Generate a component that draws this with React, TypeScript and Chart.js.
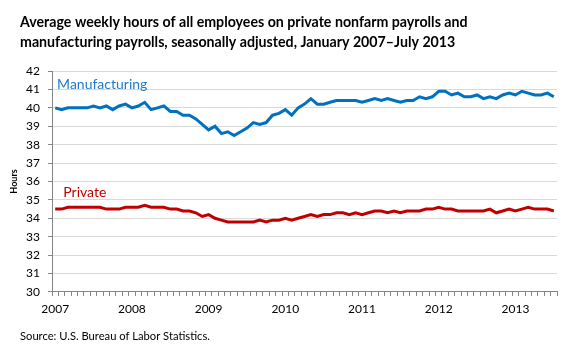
import React, { useEffect, useRef } from "react";
import { Chart, registerables } from "chart.js";

Chart.register(...registerables);

// Jan 2007 – Jul 2013, monthly, seasonally adjusted
const yearLabels = ["2007", "2008", "2009", "2010", "2011", "2012", "2013"];

const manufacturingHours = [
  40.0, 39.9, 40.0, 40.0, 40.0, 40.0, 40.1, 40.0, 40.1, 39.9, 40.1, 40.2,
  40.0, 40.1, 40.3, 39.9, 40.0, 40.1, 39.8, 39.8, 39.6, 39.6, 39.4, 39.1,
  38.8, 39.0, 38.6, 38.7, 38.5, 38.7, 38.9, 39.2, 39.1, 39.2, 39.6, 39.7,
  39.9, 39.6, 40.0, 40.2, 40.5, 40.2, 40.2, 40.3, 40.4, 40.4, 40.4, 40.4,
  40.3, 40.4, 40.5, 40.4, 40.5, 40.4, 40.3, 40.4, 40.4, 40.6, 40.5, 40.6,
  40.9, 40.9, 40.7, 40.8, 40.6, 40.6, 40.7, 40.5, 40.6, 40.5, 40.7, 40.8,
  40.7, 40.9, 40.8, 40.7, 40.7, 40.8, 40.6,
];

const privateHours = [
  34.5, 34.5, 34.6, 34.6, 34.6, 34.6, 34.6, 34.6, 34.5, 34.5, 34.5, 34.6,
  34.6, 34.6, 34.7, 34.6, 34.6, 34.6, 34.5, 34.5, 34.4, 34.4, 34.3, 34.1,
  34.2, 34.0, 33.9, 33.8, 33.8, 33.8, 33.8, 33.8, 33.9, 33.8, 33.9, 33.9,
  34.0, 33.9, 34.0, 34.1, 34.2, 34.1, 34.2, 34.2, 34.3, 34.3, 34.2, 34.3,
  34.2, 34.3, 34.4, 34.4, 34.3, 34.4, 34.3, 34.4, 34.4, 34.4, 34.5, 34.5,
  34.6, 34.5, 34.5, 34.4, 34.4, 34.4, 34.4, 34.4, 34.5, 34.3, 34.4, 34.5,
  34.4, 34.5, 34.6, 34.5, 34.5, 34.5, 34.4,
];

const titleLines = [
  "Average weekly hours of all employees on private nonfarm payrolls and",
  "manufacturing payrolls, seasonally adjusted, January 2007\u2013July 2013",
];
const sourceText = "Source: U.S. Bureau of Labor Statistics.";
const seriesNames = ["Manufacturing", "Private"];

const BLUE = "#0070C0";
const BLUE_TEXT = "#1F7BC8";
const RED = "#C00000";
const FONT = "Lato, 'Open Sans', sans-serif";

const seriesLabelPlugin = {
  id: "seriesLabels",
  afterDatasetsDraw(chart: any) {
    const { ctx, scales } = chart;
    const x = scales.x;
    const y = scales.y;
    ctx.save();
    ctx.font = `14px ${FONT}`;
    ctx.textAlign = "left";
    ctx.textBaseline = "alphabetic";
    ctx.fillStyle = BLUE_TEXT;
    ctx.fillText(seriesNames[0], x.getPixelForValue(0.3), y.getPixelForValue(41.02));
    ctx.fillStyle = RED;
    ctx.fillText(seriesNames[1], x.getPixelForValue(1.27), y.getPixelForValue(35.16));
    ctx.restore();
  },
};

export default function App() {
  const canvasRef = useRef<HTMLCanvasElement | null>(null);

  useEffect(() => {
    const canvas = canvasRef.current;
    if (!canvas) return;
    const n = manufacturingHours.length;
    const points = (arr: number[]) => arr.map((v, i) => ({ x: i, y: v }));

    const chart = new Chart(canvas, {
      type: "line",
      data: {
        datasets: [
          {
            label: seriesNames[0],
            data: points(manufacturingHours),
            borderColor: BLUE,
            backgroundColor: BLUE,
            borderWidth: 3,
            pointRadius: 0,
            tension: 0,
          },
          {
            label: seriesNames[1],
            data: points(privateHours),
            borderColor: RED,
            backgroundColor: RED,
            borderWidth: 3,
            pointRadius: 0,
            tension: 0,
          },
        ],
      },
      options: {
        responsive: false,
        animation: false,
        devicePixelRatio: 1,
        layout: { padding: { left: 20, right: 23, top: 0, bottom: 0 } },
        plugins: {
          legend: { display: false },
          tooltip: { enabled: false },
          title: {
            display: true,
            text: titleLines,
            align: "start",
            color: "#000000",
            font: { family: FONT, size: 14.2, weight: "bold", lineHeight: "19.5px" },
            padding: { top: 13, bottom: 19 },
          },
          subtitle: {
            display: true,
            text: sourceText,
            position: "bottom",
            align: "start",
            color: "#000000",
            font: { family: FONT, size: 11.2, lineHeight: 1.2 },
            padding: { top: 7.3, bottom: 17.3 },
          },
        },
        scales: {
          x: {
            type: "linear",
            min: -0.5,
            max: n - 0.5,
            afterFit(scale: any) {
              scale.height = 30;
            },
            afterBuildTicks(scale: any) {
              const t = [];
              for (let k = 0; k <= n; k++) t.push({ value: k - 0.5 });
              scale.ticks = t;
            },
            grid: {
              drawOnChartArea: false,
              drawTicks: true,
              tickLength: 4,
              tickColor: "#868686",
            },
            border: { color: "#868686", width: 1 },
            ticks: {
              autoSkip: false,
              maxRotation: 0,
              minRotation: 0,
              padding: 6,
              labelOffset: 3.2,
              color: "#000000",
              font: { family: FONT, size: 12 },
              callback: (value: any) => {
                const m = Math.round(Number(value) + 0.5);
                if (m % 12 === 0 && m / 12 < yearLabels.length) return yearLabels[m / 12];
                return "";
              },
            },
          },
          y: {
            min: 30,
            max: 42,
            afterFit(scale: any) {
              scale.width = 32;
            },
            ticks: {
              stepSize: 1,
              padding: 8,
              color: "#000000",
              font: { family: FONT, size: 12 },
            },
            grid: {
              color: "#D9D9D9",
              lineWidth: 1,
              drawTicks: true,
              tickLength: 4,
              tickColor: "#868686",
            },
            border: { color: "#868686", width: 1 },
            title: {
              display: true,
              text: "Hours",
              color: "#000000",
              font: { family: FONT, size: 9, weight: "bold" },
              padding: { top: -11.4, bottom: 0 },
            },
          },
        },
      },
      plugins: [seriesLabelPlugin],
    } as any);

    return () => chart.destroy();
  }, []);

  return (
    <div style={{ position: "absolute", left: 0, top: 0, width: 580, height: 360, background: "#ffffff" }}>
      <canvas ref={canvasRef} width={580} height={360} />
    </div>
  );
}
